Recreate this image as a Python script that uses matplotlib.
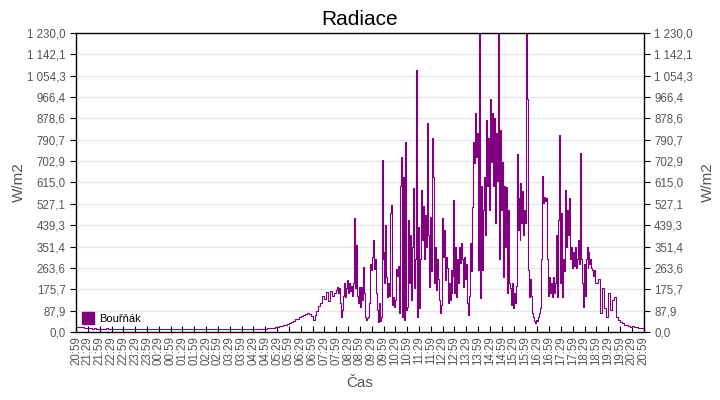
import matplotlib

matplotlib.use("Agg")
import matplotlib.pyplot as plt
from matplotlib.lines import Line2D
from matplotlib.ticker import FixedLocator, FuncFormatter

plt.rcParams["font.family"] = ["Liberation Sans", "DejaVu Sans"]

# --- data: radiation [W/m2], starting 20:59; each block spans the given hours ---
start_label = (20, 59)

night = [
    20, 22, 21, 19, 17, 16, 15, 15, 14, 15, 14, 14,
    14, 13, 14, 15, 14, 13, 13, 14, 13, 13, 14, 13,
    13, 14, 13, 13, 12, 13, 14, 13, 13, 12, 13, 13,
    13, 12, 13, 13, 14, 13, 12, 13, 13, 12, 13, 13,
    12, 13, 13, 12, 13, 14, 13, 12, 13, 13, 12, 13,
    13, 12, 12, 13, 13, 12, 13, 12, 13, 13, 12, 13,
    13, 12, 13, 13, 12, 13, 12, 13, 13, 12, 13, 13,
    12, 13, 13, 12, 13, 12, 13, 13, 12, 13, 13, 14,
]
dawn = [14, 15, 15, 16, 18, 20, 22, 24, 26, 28, 30, 33]
h06 = [36, 40, 45, 52, 55, 60, 66, 70, 74, 78, 72, 65]
h07 = [48, 70, 85, 105, 120, 150, 135, 165, 128, 170, 150, 160]
h08 = [172, 186, 160, 180, 120, 60, 90, 150, 200, 145, 180, 215,
       160, 200, 170, 190, 150, 200, 469, 180, 358, 150, 120, 185]
h09 = [103, 185, 130, 267, 160, 62, 50, 58, 62, 120, 280, 255,
       310, 378, 260, 300, 160, 90, 41, 120, 45, 60, 707, 300]
h10 = [330, 200, 440, 226, 144, 200, 150, 490, 522, 110, 144, 103,
       130, 260, 230, 270, 80, 600, 720, 60, 638, 50, 782, 90]
h11 = [103, 461, 200, 400, 130, 350, 592, 180, 300, 1078, 62, 432,
       100, 300, 584, 378, 520, 300, 480, 350, 860, 400, 186, 475]
h12 = [250, 798, 638, 200, 350, 173, 300, 220, 131, 78, 110, 469,
       308, 420, 213, 308, 263, 119, 200, 130, 255, 160, 230, 543]
h13 = [160, 350, 144, 300, 200, 350, 284, 366, 300, 185, 308, 220,
       280, 119, 70, 150, 366, 250, 514, 780, 695, 900, 720, 818]
h14 = [255, 1230, 140, 600, 255, 500, 638, 400, 872, 600, 800, 500,
       958, 700, 900, 600, 880, 450, 820, 620, 1230, 300, 830, 500]
h15 = [700, 226, 600, 350, 596, 160, 500, 200, 180, 110, 200, 100,
       160, 120, 190, 732, 420, 550, 380, 612, 450, 580, 400, 500]
h16 = [450, 1230, 960, 255, 144, 220, 150, 78, 60, 45, 37, 50,
       45, 60, 78, 100, 300, 642, 530, 555, 540, 550, 300, 150]
h17 = [226, 160, 200, 145, 226, 160, 200, 400, 144, 461, 810, 200,
       490, 144, 300, 250, 584, 350, 500, 400, 550, 300, 350, 263]
h18 = [330, 270, 350, 263, 300, 380, 280, 736, 300, 200, 103, 280,
       150, 300, 350, 263, 330, 280, 300, 263, 255, 230, 255, 200]
h19 = [200, 220, 80, 180, 100, 62, 160, 90, 130, 144, 60, 50]
h20 = [40, 35, 30, 28, 25, 22, 24, 20, 22, 18, 16, 15]
end_value = 14

blocks = [(night, 8), (dawn, 1), (h06, 1), (h07, 1), (h08, 1), (h09, 1),
          (h10, 1), (h11, 1), (h12, 1), (h13, 1), (h14, 1), (h15, 1),
          (h16, 1), (h17, 1), (h18, 1), (h19, 1), (h20, 1)]

minutes, radiation = [], []
t0 = 0.0
for vals, hours in blocks:
    span = hours * 60
    minutes += [t0 + i * span / len(vals) for i in range(len(vals))]
    radiation += vals
    t0 += span
minutes.append(t0)
radiation.append(end_value)

y_max = 1230.0
y_ticks = [y_max * i / 14 for i in range(15)]
x_ticks = list(range(0, 1441, 30))
x_labels = [
    f"{(start_label[0] + (start_label[1] + m) // 60) % 24:02d}:{(start_label[1] + m) % 60:02d}"
    for m in x_ticks
]
series_name = "Bouřňák"
line_color = "#800080"
text_color = "#555555"


def fmt_cz(v, _pos=None):
    s = f"{v:,.1f}"
    return s.replace(",", " ").replace(".", ",")


fig = plt.figure(figsize=(7.2, 4.0), dpi=100)
ax = fig.add_axes([0.1056, 0.17, 0.7884, 0.7475])

ax.plot(minutes, radiation, color=line_color, lw=0.8, drawstyle="steps-post")

ax.set_xlim(0, 1440)
ax.set_ylim(0, y_max)
ax.yaxis.set_major_locator(FixedLocator(y_ticks))
ax.yaxis.set_major_formatter(FuncFormatter(fmt_cz))
ax.set_xticks(x_ticks)
ax.set_xticklabels(x_labels, rotation=90, fontsize=8.3, color=text_color)
ax.tick_params(axis="x", direction="in", length=4, pad=3)
ax.tick_params(axis="y", direction="out", length=4, labelsize=8.3,
               labelcolor=text_color, right=True, labelright=True)
ax.grid(axis="y", color="#e6e6e6", lw=1)
ax.set_axisbelow(True)
for sp in ax.spines.values():
    sp.set_color("black")
    sp.set_linewidth(1)

ax.set_title("Radiace", fontsize=15, pad=6)
ax.set_xlabel("Čas", fontsize=11, color=text_color, labelpad=8)
ax.set_ylabel("W/m2", fontsize=11, color=text_color, labelpad=1)
ax2 = ax.secondary_yaxis("right")
ax2.set_yticks([])
ax2.set_ylabel("W/m2", fontsize=11, color=text_color, labelpad=41)
ax2.spines["right"].set_visible(False)

handle = Line2D([], [], marker="s", color="none", markerfacecolor=line_color,
                markeredgecolor=line_color, markersize=8)
ax.legend([handle], [series_name], loc="lower left", frameon=False,
          fontsize=8, handlelength=0.8, handletextpad=0.6,
          borderaxespad=0.3, bbox_to_anchor=(0.0, 0.0))

fig.savefig("out.png", dpi=100)
